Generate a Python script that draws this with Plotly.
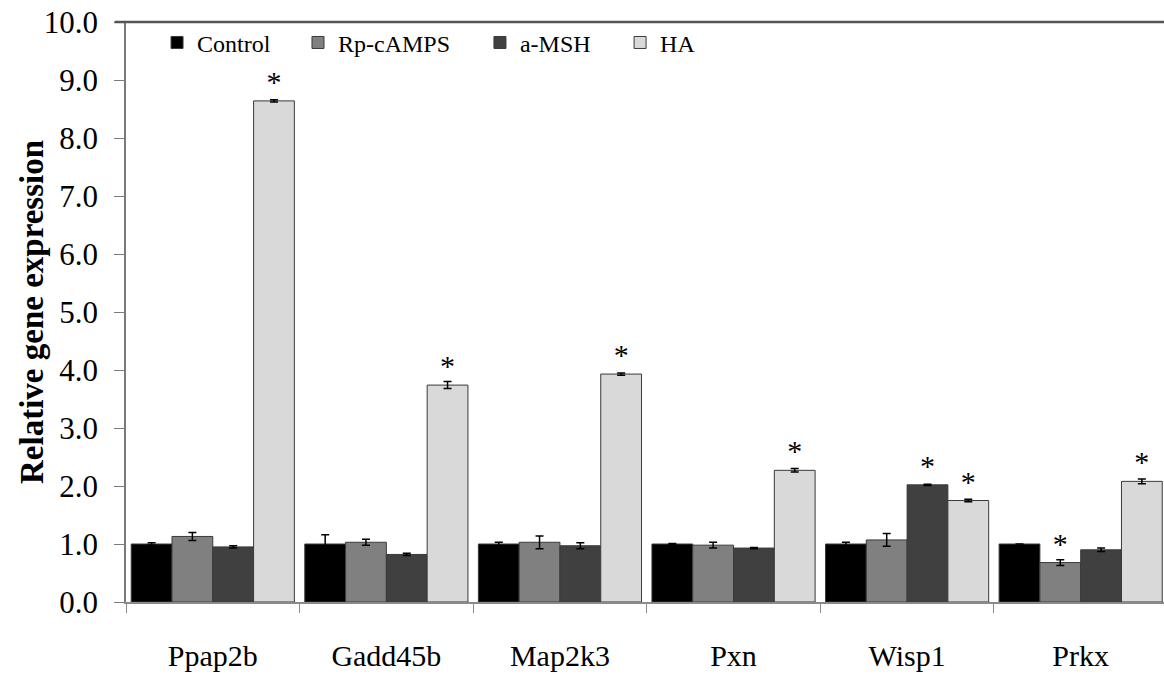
import plotly.graph_objects as go

genes = ["Ppap2b", "Gadd45b", "Map2k3", "Pxn", "Wisp1", "Prkx"]
series_names = ["Control", "Rp-cAMPS", "a-MSH", "HA"]

control = [1.00, 1.00, 1.00, 1.00, 1.00, 1.00]
rp_camps = [1.13, 1.03, 1.03, 0.98, 1.07, 0.68]
a_msh = [0.95, 0.82, 0.97, 0.93, 2.02, 0.90]
ha = [8.64, 3.74, 3.93, 2.27, 1.75, 2.08]

control_err = [0.02, 0.16, 0.03, 0.01, 0.03, 0.00]
rp_camps_err = [0.07, 0.05, 0.11, 0.05, 0.11, 0.05]
a_msh_err = [0.02, 0.02, 0.05, 0.01, 0.01, 0.03]
ha_err = [0.02, 0.06, 0.02, 0.03, 0.02, 0.04]

control_sig = ["", "", "", "", "", ""]
rp_camps_sig = ["", "", "", "", "", "*"]
a_msh_sig = ["", "", "", "", "*", ""]
ha_sig = ["*", "*", "*", "*", "*", "*"]

y_ticks = [0, 1, 2, 3, 4, 5, 6, 7, 8, 9, 10]
y_tick_labels = ["0.0", "1.0", "2.0", "3.0", "4.0", "5.0", "6.0", "7.0", "8.0", "9.0", "10.0"]
y_title = "Relative gene expression"

values = [control, rp_camps, a_msh, ha]
errors = [control_err, rp_camps_err, a_msh_err, ha_err]
sigs = [control_sig, rp_camps_sig, a_msh_sig, ha_sig]
colors = ["#000000", "#808080", "#404040", "#d9d9d9"]
legend_ids = ["legend", "legend2", "legend3", "legend4"]
legend_x = [0.0299, 0.1657, 0.341, 0.476]

FONT = "Liberation Serif, Times New Roman, serif"

fig = go.Figure()
for name, vals, errs, sig, col, lid in zip(series_names, values, errors, sigs, colors, legend_ids):
    fig.add_trace(go.Bar(
        x=genes, y=vals, name=name,
        marker=dict(color=col, line=dict(color="#3a3a3a", width=1)),
        error_y=dict(type="data", array=errs, visible=True, color="#000000",
                     thickness=1.5, width=4),
        text=sig, textposition="outside",
        textfont=dict(family=FONT, size=30, color="#000000"),
        cliponaxis=False,
        legend=lid,
    ))

legend_common = dict(
    orientation="h", yanchor="middle", y=0.964, xanchor="left",
    font=dict(family=FONT, size=24, color="#000000"),
    bgcolor="rgba(0,0,0,0)", borderwidth=0, itemwidth=30,
)

layout_legends = {}
for lid, lx in zip(legend_ids, legend_x):
    layout_legends[lid] = dict(legend_common, x=lx)

fig.update_layout(
    width=1164, height=675,
    margin=dict(l=126, r=0, t=22, b=73, autoexpand=False),
    paper_bgcolor="white", plot_bgcolor="white",
    barmode="group", bargap=0.06, bargroupgap=0,
    showlegend=True,
    font=dict(family=FONT, size=30, color="#000000"),
    xaxis=dict(
        range=[-0.5, 5.48], showline=True, linecolor="#8a8a8a", linewidth=1.5,
        ticks="outside", tickson="boundaries", ticklen=9, tickcolor="#8a8a8a",
        tickwidth=1, tickfont=dict(family=FONT, size=30, color="#000000"),
        ticklabelstandoff=26, showgrid=False, zeroline=False, automargin=False,
    ),
    yaxis=dict(
        range=[0, 10], tickvals=y_ticks, ticktext=y_tick_labels,
        showline=True, linecolor="#7a7a7a", linewidth=1.5,
        ticks="outside", ticklen=10, tickcolor="#7a7a7a", tickwidth=1,
        tickfont=dict(family=FONT, size=31, color="#000000"),
        ticklabelstandoff=10, showgrid=False, zeroline=False, automargin=False,
    ),
    annotations=[dict(text="<b>" + y_title + "</b>", xref="paper", yref="paper",
                      x=-0.0906, y=0.5, xanchor="center", yanchor="middle",
                      textangle=-90, showarrow=False,
                      font=dict(family=FONT, size=33, color="#000000"))],
    shapes=[dict(type="line", xref="paper", yref="paper", x0=-0.011, x1=1.0,
                 y0=1, y1=1, line=dict(color="#555555", width=2.5))],
    **layout_legends,
)

fig.write_html("out.html")
